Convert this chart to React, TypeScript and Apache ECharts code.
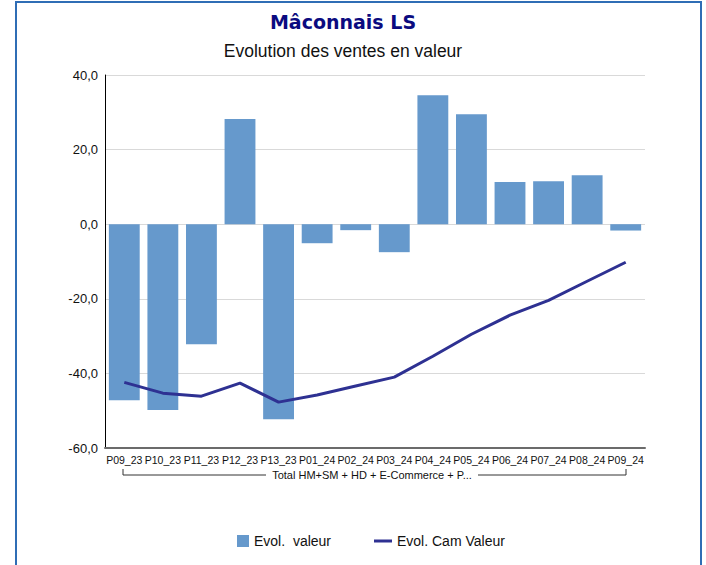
import React, { useEffect, useRef } from "react";
import * as echarts from "echarts";

const categories = ["P09_23","P10_23","P11_23","P12_23","P13_23","P01_24","P02_24","P03_24","P04_24","P05_24","P06_24","P07_24","P08_24","P09_24"];
const evolValeur = [-47.2,-49.8,-32.2,28.2,-52.3,-5.1,-1.6,-7.5,34.6,29.5,11.3,11.5,13.1,-1.7];
const evolCamValeur = [-42.4,-45.3,-46.1,-42.6,-47.7,-45.8,-43.4,-41.0,-35.4,-29.5,-24.4,-20.4,-15.3,-10.2];
const groupLabel = "Total HM+SM + HD + E-Commerce + P...";

const FONT = "'Liberation Sans', Arial, sans-serif";

export default function App() {
  const ref = useRef<HTMLDivElement>(null);
  useEffect(() => {
    const chart = echarts.init(ref.current!, null, { renderer: "svg" });
    chart.setOption({
      animation: false,
      backgroundColor: "#ffffff",
      textStyle: { fontFamily: FONT },
      title: [
        { text: "Mâconnais LS", left: 338, top: 7, textAlign: "center",
          textStyle: { fontFamily: "'DejaVu Sans', Verdana, sans-serif", fontWeight: "bold", fontSize: 19, color: "#0b0b80" } },
        { text: "Evolution des ventes en valeur", left: 338, top: 37, textAlign: "center",
          textStyle: { fontFamily: FONT, fontWeight: "normal", fontSize: 17.5, color: "#111111" } },
      ],
      grid: { left: 105, right: 61, top: 75, bottom: 117, containLabel: false },
      xAxis: {
        type: "category",
        data: categories,
        axisLine: { onZero: false, lineStyle: { color: "#6b6b6b", width: 2 } },
        axisTick: { show: false },
        axisLabel: { interval: 0, fontSize: 10.5, color: "#111", margin: 6, fontFamily: FONT },
      },
      yAxis: {
        type: "value",
        min: -60, max: 40, interval: 20,
        axisLine: { show: true, lineStyle: { color: "#000", width: 1 } },
        axisTick: { show: false },
        splitLine: { lineStyle: { color: "#d9d9d9", width: 1 } },
        axisLabel: { fontSize: 13, color: "#111", margin: 7, formatter: (v: number) => v.toFixed(1).replace(".", ",") },
      },
      legend: [
        { data: [{ name: "Evol.  valeur", icon: "rect" }], left: 232, top: 528, itemWidth: 12, itemHeight: 12,
          textStyle: { fontSize: 14, color: "#111", fontFamily: FONT, lineHeight: 16 } },
        { data: [{ name: "Evol. Cam Valeur", icon: "rect" }], left: 369, top: 528, itemWidth: 18, itemHeight: 3,
          textStyle: { fontSize: 14, color: "#111", fontFamily: FONT, lineHeight: 16 } },
      ],
      series: [
        { name: "Evol.  valeur", type: "bar", data: evolValeur, barCategoryGap: "20%",
          itemStyle: { color: "#6699cc" } },
        { name: "Evol. Cam Valeur", type: "line", data: evolCamValeur, showSymbol: false, symbol: "none",
          lineStyle: { color: "#2e3192", width: 3 }, itemStyle: { color: "#2e3192" } },
      ],
      graphic: [
        { type: "rect", shape: { x: 16, y: 2, width: 685, height: 600 }, style: { fill: "none", stroke: "#2f6db5", lineWidth: 2 } },
        { type: "polyline", shape: { points: [[123, 469], [123, 475], [266, 475]] }, style: { stroke: "#333", lineWidth: 1, fill: "none" } },
        { type: "polyline", shape: { points: [[478, 475], [626, 475], [626, 469]] }, style: { stroke: "#333", lineWidth: 1, fill: "none" } },
        { type: "text", x: 372, y: 469, style: { text: groupLabel, fontSize: 11, fontFamily: FONT, fill: "#111", textAlign: "center" } },
      ],
    });
    return () => chart.dispose();
  }, []);
  return <div ref={ref} style={{ position: "absolute", left: 0, top: 0, width: 706, height: 565 }} />;
}
